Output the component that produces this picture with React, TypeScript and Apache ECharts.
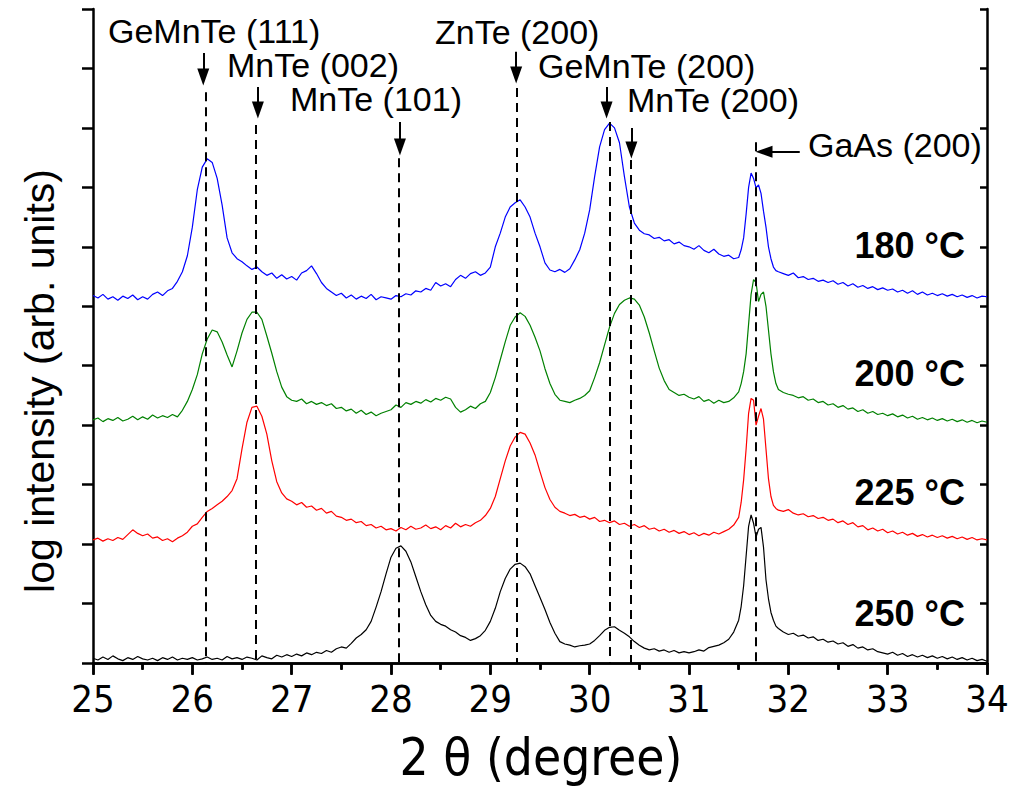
import React, { useEffect, useRef } from "react";
import * as echarts from "echarts";

// ---- sampling grid (2θ, degrees) ----
const anglesLeft = Array.from({ length: 130 }, (_, i) => +(25 + i * 0.05).toFixed(3));
const anglesFine = Array.from({ length: 17 }, (_, i) => +(31.5 + i * 0.025).toFixed(3));
const anglesRight = Array.from({ length: 42 }, (_, i) => +(31.95 + i * 0.05).toFixed(3));
const angles = [...anglesLeft, ...anglesFine, ...anglesRight];

// ---- series values (log intensity, offset, arb. units) ----
const blue180 = [
  6.18, 6.14, 6.2, 6.12, 6.16, 6.1, 6.17, 6.13, 6.19, 6.11,
  6.16, 6.12, 6.2, 6.24, 6.18, 6.26, 6.3, 6.42, 6.58, 6.85,
  7.33, 7.96, 8.34, 8.48, 8.42, 8.15, 7.7, 7.15, 6.9, 6.8,
  6.75, 6.68, 6.62, 6.66, 6.58, 6.52, 6.56, 6.47, 6.53, 6.46,
  6.5, 6.44, 6.56, 6.6, 6.68, 6.55, 6.4, 6.3, 6.24, 6.18,
  6.22, 6.14, 6.19, 6.12, 6.17, 6.13, 6.2, 6.11, 6.16, 6.14,
  6.12, 6.18, 6.16, 6.21, 6.19, 6.26, 6.24, 6.3, 6.27, 6.4,
  6.34, 6.38, 6.33, 6.45, 6.52, 6.47, 6.55, 6.58, 6.52, 6.56,
  6.66, 7.0, 7.23, 7.5, 7.67, 7.74, 7.79, 7.67, 7.5, 7.23,
  7.0, 6.73, 6.61, 6.58, 6.62, 6.57, 6.63, 6.78, 6.95, 7.23,
  7.62, 8.18, 8.68, 8.97, 9.08, 9.0, 8.75, 8.18, 7.67, 7.4,
  7.28, 7.22, 7.2, 7.14, 7.16, 7.1, 7.12, 7.05, 7.08, 7.02,
  7.0, 6.96, 7.02, 6.94, 6.9, 6.96, 6.88, 6.84, 6.86, 6.8,
  6.82, 6.95, 7.15, 7.55, 8.0, 8.24, 8.15, 7.99, 8.04, 7.9, 7.6, 7.33, 7.0, 6.8, 6.66, 6.6, 6.58,
  6.55, 6.52, 6.56, 6.48, 6.5, 6.45, 6.47, 6.42, 6.44, 6.4,
  6.43, 6.37, 6.4, 6.34, 6.38, 6.32, 6.35, 6.3, 6.33, 6.28,
  6.31, 6.27, 6.29, 6.24, 6.27, 6.22, 6.26, 6.2, 6.24, 6.19,
  6.22, 6.18, 6.21, 6.17, 6.2, 6.16, 6.19, 6.15, 6.18, 6.14,
  6.17, 6.16,
];

const green200 = [
  4.09, 4.12, 4.06, 4.11, 4.08, 4.13, 4.07, 4.1, 4.15, 4.09,
  4.14, 4.1, 4.17, 4.12, 4.16, 4.13, 4.18, 4.14, 4.25, 4.4,
  4.6, 4.85, 5.2, 5.45, 5.6, 5.57, 5.4, 5.18, 4.98, 5.25,
  5.55, 5.78, 5.9, 5.9, 5.78, 5.5, 5.21, 4.9, 4.64, 4.48,
  4.42, 4.4, 4.44, 4.36, 4.4, 4.35, 4.38, 4.33, 4.36, 4.28,
  4.3, 4.24, 4.27, 4.2, 4.25, 4.18, 4.22, 4.16, 4.2, 4.23,
  4.26, 4.34, 4.3, 4.38, 4.35, 4.4, 4.37, 4.43, 4.39, 4.45,
  4.42, 4.47, 4.44, 4.3, 4.22, 4.26, 4.32, 4.28, 4.36, 4.4,
  4.55, 4.8, 5.1, 5.4, 5.68, 5.82, 5.89, 5.83, 5.68, 5.48,
  5.25, 4.95, 4.7, 4.52, 4.42, 4.4, 4.38, 4.42, 4.45, 4.5,
  4.58, 4.8, 5.05, 5.35, 5.65, 5.88, 6.03, 6.1, 6.14, 6.12,
  6.02, 5.82, 5.55, 5.25, 4.96, 4.75, 4.6, 4.55, 4.5, 4.52,
  4.47, 4.44, 4.48, 4.4, 4.43, 4.37, 4.42, 4.38, 4.4, 4.46,
  4.56, 4.7, 4.9, 5.2, 5.7, 6.2, 6.45, 6.4, 6.08, 6.2, 6.24, 6.0, 5.6, 5.2, 4.9, 4.7, 4.6,
  4.55, 4.52, 4.5, 4.46, 4.48, 4.42, 4.44, 4.38, 4.4, 4.34,
  4.36, 4.3, 4.33, 4.27, 4.29, 4.23, 4.26, 4.2, 4.23, 4.18,
  4.2, 4.16, 4.19, 4.14, 4.17, 4.12, 4.15, 4.1, 4.13, 4.09,
  4.12, 4.08, 4.11, 4.07, 4.1, 4.06, 4.09, 4.05, 4.08, 4.04,
  4.07, 4.05,
];

const red225 = [
  2.07, 2.1, 2.05, 2.09, 2.06, 2.11, 2.08, 2.16, 2.24, 2.18,
  2.14, 2.17, 2.1, 2.12, 2.06, 2.09, 2.04, 2.1, 2.14, 2.2,
  2.3, 2.34, 2.45, 2.55, 2.6, 2.66, 2.72, 2.8, 2.9, 3.1,
  3.6, 4.05, 4.3, 4.32, 4.15, 3.85, 3.4, 3.05, 2.86, 2.76,
  2.72, 2.66, 2.7, 2.62, 2.64, 2.57, 2.6, 2.52, 2.55, 2.47,
  2.45, 2.4, 2.42, 2.36, 2.38, 2.31, 2.33, 2.27, 2.3, 2.24,
  2.26, 2.22, 2.28, 2.24, 2.3, 2.25, 2.27, 2.32, 2.26, 2.29,
  2.24, 2.31, 2.27, 2.35, 2.29, 2.33, 2.3, 2.36, 2.4, 2.48,
  2.6, 2.8, 3.1, 3.4, 3.65, 3.8, 3.88, 3.85, 3.7, 3.5,
  3.22, 2.95, 2.75, 2.62, 2.55, 2.52, 2.48, 2.5, 2.45, 2.47,
  2.42, 2.45, 2.38, 2.4, 2.36, 2.39, 2.33, 2.35, 2.3, 2.33,
  2.28, 2.31, 2.25, 2.27, 2.22, 2.25, 2.2, 2.23, 2.18, 2.21,
  2.16, 2.19, 2.14, 2.18, 2.15, 2.2, 2.17, 2.21, 2.25, 2.32,
  2.45, 2.7, 3.08, 3.6, 4.2, 4.45, 4.42, 4.0, 4.15, 4.28, 4.1, 3.6, 3.1, 2.8, 2.65, 2.6, 2.57,
  2.55, 2.58, 2.52, 2.49, 2.51, 2.46, 2.48, 2.43, 2.45, 2.4,
  2.42, 2.36, 2.39, 2.33, 2.36, 2.29, 2.31, 2.24, 2.27, 2.22,
  2.25, 2.19, 2.22, 2.17, 2.2, 2.15, 2.18, 2.13, 2.16, 2.12,
  2.15, 2.11, 2.14, 2.1, 2.13, 2.09, 2.12, 2.08, 2.11, 2.07,
  2.09, 2.07,
];

const black250 = [
  0.08, 0.05, 0.1, 0.06, 0.12, 0.07, 0.04, 0.09, 0.06, 0.11,
  0.07, 0.05, 0.08, 0.04, 0.09, 0.06, 0.1, 0.05, 0.08, 0.06,
  0.09, 0.05, 0.07, 0.1, 0.06, 0.08, 0.05, 0.11, 0.07, 0.09,
  0.06, 0.1, 0.08, 0.05, 0.12, 0.09, 0.07, 0.13, 0.1, 0.14,
  0.11, 0.15, 0.12, 0.17, 0.14, 0.18, 0.16, 0.21, 0.18, 0.24,
  0.27, 0.25, 0.33, 0.42, 0.48, 0.56, 0.7, 0.94, 1.2, 1.5,
  1.78, 1.93, 1.97, 1.88, 1.7, 1.45, 1.2, 0.98, 0.8, 0.7,
  0.65, 0.62, 0.56, 0.52, 0.46, 0.43, 0.38, 0.41, 0.46, 0.55,
  0.7, 0.92, 1.2, 1.42, 1.58, 1.66, 1.68, 1.62, 1.5, 1.3,
  1.1, 0.9, 0.68, 0.5, 0.36, 0.32, 0.3, 0.27, 0.29, 0.3,
  0.32, 0.38, 0.46, 0.55, 0.6, 0.61, 0.55, 0.5, 0.44, 0.36,
  0.3, 0.25, 0.22, 0.24, 0.2, 0.22, 0.18, 0.21, 0.17, 0.19,
  0.17, 0.19, 0.22, 0.2, 0.26, 0.28, 0.3, 0.34, 0.4, 0.52,
  0.72, 0.95, 1.3, 1.8, 2.3, 2.49, 2.35, 2.12, 2.25, 2.28, 1.95, 1.4, 1.08, 0.85, 0.72, 0.62, 0.58,
  0.52, 0.48, 0.5, 0.45, 0.47, 0.42, 0.44, 0.38, 0.4, 0.35,
  0.37, 0.32, 0.34, 0.28, 0.31, 0.25, 0.27, 0.22, 0.24, 0.19,
  0.17, 0.15, 0.18, 0.13, 0.16, 0.11, 0.14, 0.1, 0.13, 0.09,
  0.12, 0.08, 0.11, 0.07, 0.1, 0.06, 0.09, 0.05, 0.08, 0.04,
  0.06, 0.03,
];

const temperatureLabels = ["180 °C", "200 °C", "225 °C", "250 °C"];

// ---- reflections ----
const peakNames = ["GeMnTe (111)", "MnTe (002)", "MnTe (101)", "ZnTe (200)", "GeMnTe (200)", "MnTe (200)", "GaAs (200)"];
const peakAngles = [26.14, 26.64, 28.08, 29.27, 30.2, 30.41, 31.67];

const xTicks = [25, 26, 27, 28, 29, 30, 31, 32, 33, 34];

// ---- layout (annotation placement; not data) ----
const dashTop = [9.6, 9.05, 8.49, 9.67, 9.1, 8.46, 8.76];
const arrowDx = [-0.03, 0.02, 0.01, -0.01, -0.03, 0.01];
const arrowFrom = [10.26, 9.69, 9.1, 10.28, 9.69, 9.0];
const arrowTo = [9.857, 9.3, 8.68, 9.89, 9.3, 8.63];
const gaasArrow = { from: 32.115, to: 31.755, y: 8.6 };
const labelPos = [
  [108, 31], [227, 65], [290, 99], [435, 32], [538, 66], [627, 100], [808, 145],
];
const tempPos = [245, 373, 492, 613];

const NARROW = "'Liberation Sans Narrow', 'Arial Narrow', 'DejaVu Sans Condensed', 'Liberation Sans', Arial, sans-serif";
const SANS = "'Liberation Sans', Arial, Helvetica, sans-serif";

export default function App() {
  const ref = useRef<HTMLDivElement>(null);
  useEffect(() => {
    if (!ref.current) return;
    const chart = echarts.init(ref.current, undefined, { renderer: "svg" });
    const mk = (vals: number[]) => angles.map((a, i) => [a, vals[i]]);
    const axisLine = { show: true, lineStyle: { color: "#000", width: 2.5 } };
    const tickStyle = { color: "#000", width: 2.5 };

    const dashData = peakAngles.map((a, i) => [
      { coord: [a, dashTop[i]] },
      { coord: [a, 0] },
    ]);
    const arrowData: any[] = arrowFrom.map((f, i) => [
      { coord: [peakAngles[i] + arrowDx[i], f] },
      { coord: [peakAngles[i] + arrowDx[i], arrowTo[i]] },
    ]);
    arrowData.push([
      { coord: [gaasArrow.from, gaasArrow.y] },
      { coord: [gaasArrow.to, gaasArrow.y] },
    ]);

    const graphic: any[] = [];
    peakNames.forEach((n, i) => {
      graphic.push({
        type: "text",
        x: labelPos[i][0],
        y: labelPos[i][1],
        silent: true,
        style: {
          text: n, fontSize: 34, lineHeight: 28, fontFamily: SANS, fill: "#000",
          align: "left", verticalAlign: "middle",
        },
      });
    });
    temperatureLabels.forEach((t, i) => {
      graphic.push({
        type: "text",
        x: 965,
        y: tempPos[i],
        silent: true,
        style: {
          text: t, fontSize: 36, lineHeight: 30, fontWeight: "bold", fontFamily: SANS, fill: "#000",
          align: "right", verticalAlign: "middle",
        },
      });
    });
    graphic.push({
      type: "text",
      x: 40,
      y: 381,
      rotation: Math.PI / 2,
      silent: true,
      style: {
        text: "log intensity (arb. units)", fontSize: 41, fontFamily: SANS, fill: "#000",
        align: "center", verticalAlign: "middle",
      },
    });
    graphic.push({
      type: "text",
      x: 541,
      y: 757,
      silent: true,
      style: {
        text: "2 θ (degree)", fontSize: 51, fontFamily: NARROW, fill: "#000",
        align: "center", verticalAlign: "middle",
      },
    });

    const lineSeries = (name: string, vals: number[], color: string, extra: any = {}) => ({
      name,
      type: "line",
      data: mk(vals),
      symbol: "none",
      showSymbol: false,
      silent: true,
      lineStyle: { color, width: 1.2 },
      z: 2,
      ...extra,
    });

    chart.setOption({
      animation: false,
      backgroundColor: "#fff",
      grid: { left: 93, right: 27, top: 9, bottom: 126, outerBoundsMode: "none" },
      xAxis: [
        {
          type: "value",
          position: "bottom",
          min: xTicks[0],
          max: xTicks[xTicks.length - 1],
          interval: 1,
          axisLine,
          axisTick: { show: true, inside: false, length: 12, lineStyle: tickStyle },
          minorTick: { show: true, splitNumber: 2, length: 7, lineStyle: tickStyle },
          splitLine: { show: false },
          minorSplitLine: { show: false },
          axisLabel: { show: true, fontSize: 38, fontFamily: NARROW, color: "#000", margin: 17 },
        },
        {
          type: "value",
          position: "top",
          min: xTicks[0],
          max: xTicks[xTicks.length - 1],
          interval: 1,
          axisLine,
          axisTick: { show: true, inside: true, length: 11, lineStyle: tickStyle },
          minorTick: { show: true, splitNumber: 2, length: 6, lineStyle: tickStyle },
          splitLine: { show: false },
          minorSplitLine: { show: false },
          axisLabel: { show: false },
        },
      ],
      yAxis: [
        {
          type: "value",
          position: "left",
          min: 0,
          max: 11,
          interval: 1,
          axisLine,
          axisTick: { show: true, inside: false, length: 11, lineStyle: tickStyle },
          splitLine: { show: false },
          axisLabel: { show: false },
        },
        {
          type: "value",
          position: "right",
          min: 0,
          max: 11,
          interval: 1,
          axisLine,
          axisTick: { show: true, inside: true, length: 7, lineStyle: tickStyle },
          splitLine: { show: false },
          axisLabel: { show: false },
        },
      ],
      series: [
        lineSeries("180 °C", blue180, "#0000ff", {
          markLine: {
            silent: true,
            animation: false,
            symbol: ["none", "triangle"],
            symbolSize: [12, 17],
            label: { show: false },
            lineStyle: { color: "#000", type: "solid", width: 2 },
            emphasis: { disabled: true },
            data: arrowData,
          },
        }),
        lineSeries("200 °C", green200, "#008000"),
        lineSeries("225 °C", red225, "#ff0000"),
        lineSeries("250 °C", black250, "#000000", {
          markLine: {
            silent: true,
            animation: false,
            symbol: ["none", "none"],
            label: { show: false },
            lineStyle: { color: "#000", type: [9, 6], width: 2 },
            emphasis: { disabled: true },
            data: dashData,
          },
        }),
      ],
      graphic,
    });
    return () => chart.dispose();
  }, []);
  return (
    <div
      ref={ref}
      style={{ position: "fixed", left: 0, top: 0, width: 1014, height: 789, background: "#fff" }}
    />
  );
}
